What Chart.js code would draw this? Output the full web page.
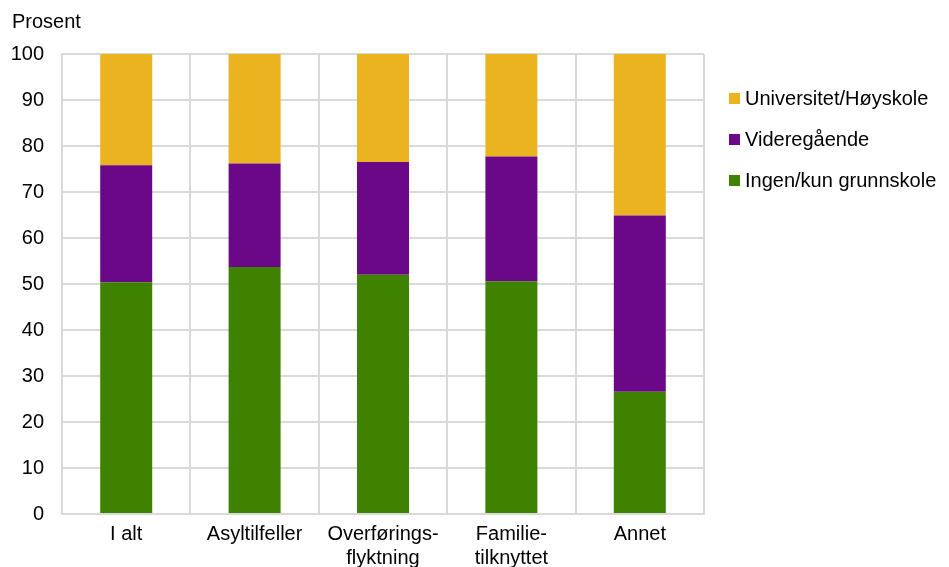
<!DOCTYPE html>
<html lang="no">
<head>
  <meta charset="UTF-8">
  <title>Utdanning etter innvandringsgrunn</title>
  <script src="https://cdn.jsdelivr.net/npm/chart.js"></script>
  <style>
    body { margin: 0; background: #fff; font-family: "Liberation Sans", Arial, sans-serif; }
    #wrap { position: relative; width: 949px; height: 567px; }
    #legend { position: absolute; left: 729px; top: 78px; color: #000; font-size: 20px; }
    .item { display: flex; align-items: center; height: 41px; white-space: nowrap; }
    .box { width: 11px; height: 11px; margin-right: 5px; }
  </style>
</head>

<body>
  <div id="wrap">
    <canvas id="eduChart" width="949" height="567"></canvas>
    <div id="legend"></div>
  </div>

  <script>
    // data (prosent)
    const categories = ['I alt', 'Asyltilfeller', ['Overførings-', 'flyktning'], ['Familie-', 'tilknyttet'], 'Annet'];
    const grunnskole = [50.4, 53.7, 52.0, 50.6, 26.6];
    const videregaende = [25.4, 22.5, 24.5, 27.1, 38.3];
    const hoyskole = [24.2, 23.8, 23.5, 22.3, 35.1];
    const yTicks = [0, 10, 20, 30, 40, 50, 60, 70, 80, 90, 100];
    const yUnit = 'Prosent';

    const font = { family: '"Liberation Sans", Arial, sans-serif', size: 20 };
    const gridColor = '#d9d9d9';

    const datasets = [
      { label: 'Ingen/kun grunnskole', data: grunnskole, backgroundColor: '#3e8200' },
      { label: 'Videregående', data: videregaende, backgroundColor: '#6a0888' },
      { label: 'Universitet/Høyskole', data: hoyskole, backgroundColor: '#ebb320' }
    ];

    // unit text above the y axis
    const unitLabel = {
      id: 'unitLabel',
      afterDraw(chart) {
        const ctx = chart.ctx;
        ctx.save();
        ctx.font = font.size + 'px ' + font.family;
        ctx.fillStyle = '#000';
        ctx.textBaseline = 'middle';
        ctx.textAlign = 'left';
        ctx.fillText(yUnit, 12, 22);
        ctx.restore();
      }
    };

    const ctx = document.getElementById('eduChart').getContext('2d');
    const chart = new Chart(ctx, {
      type: 'bar',
      data: {
        labels: categories,
        datasets: datasets.map(d => Object.assign({ categoryPercentage: 1, barPercentage: 0.405, borderWidth: 0 }, d))
      },
      options: {
        responsive: false,
        animation: false,
        layout: { padding: { top: 54, right: 245, left: 0, bottom: 0 } },
        plugins: {
          legend: { display: false },
          tooltip: { enabled: false }
        },
        scales: {
          x: {
            stacked: true,
            grid: { color: gridColor, lineWidth: 2, drawTicks: false },
            border: { color: gridColor, width: 2 },
            ticks: { color: '#000', font: font, padding: 8, maxRotation: 0, autoSkip: false },
            afterFit(scale) { scale.height = 53; }
          },
          y: {
            stacked: true,
            min: 0,
            max: 100,
            afterBuildTicks(scale) { scale.ticks = yTicks.map(v => ({ value: v })); },
            grid: { color: gridColor, lineWidth: 2, drawTicks: false },
            border: { color: gridColor, width: 2 },
            ticks: { color: '#000', font: font, padding: 18 },
            afterFit(scale) { scale.width = 62; }
          }
        }
      },
      plugins: [unitLabel]
    });

    // legend, top entry is the top segment
    const legend = document.getElementById('legend');
    datasets.slice().reverse().forEach(d => {
      const row = document.createElement('div');
      row.className = 'item';
      row.innerHTML = '<span class="box" style="background:' + d.backgroundColor + '"></span><span>' + d.label + '</span>';
      legend.appendChild(row);
    });
  </script>
</body>

</html>
